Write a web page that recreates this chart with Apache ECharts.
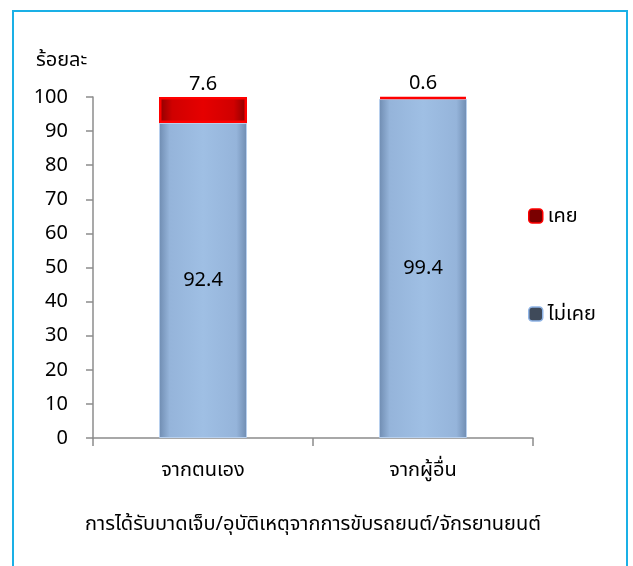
<!DOCTYPE html>
<html>
<head>
<meta charset="utf-8">
<script src="https://cdn.jsdelivr.net/npm/echarts@6/dist/echarts.min.js"></script>
<style>
  html, body { margin: 0; padding: 0; background: #fff; }
  #chart { width: 633px; height: 566px; }
</style>
</head>
<body>
<div id="chart"></div>
<script>
// data
const categories = ["จากตนเอง", "จากผู้อื่น"];
const neverValues = [92.4, 99.4];   // ไม่เคย
const everValues = [7.6, 0.6];      // เคย
const yTicks = { min: 0, max: 100, interval: 10 };

const FONT = "Tahoma, 'Noto Sans', 'Noto Sans Thai', 'DejaVu Sans', sans-serif";
const FS = 20;

let myChart = echarts.init(document.getElementById("chart"));

const blueFill = new echarts.graphic.LinearGradient(0, 0, 1, 0, [
  { offset: 0, color: "#6f8cb1" },
  { offset: 0.12, color: "#95b4da" },
  { offset: 0.5, color: "#9fbfe4" },
  { offset: 0.88, color: "#95b4da" },
  { offset: 1, color: "#6f8cb1" }
]);
const redFill = new echarts.graphic.LinearGradient(0, 0, 1, 0, [
  { offset: 0, color: "#8a0000" },
  { offset: 0.15, color: "#d00000" },
  { offset: 0.5, color: "#e60000" },
  { offset: 0.85, color: "#d00000" },
  { offset: 1, color: "#8a0000" }
]);

const option = {
  animation: false,
  textStyle: { fontFamily: FONT },
  graphic: [
    {
      type: "rect",
      z: -10,
      shape: { x: 13, y: 11, width: 614, height: 600 },
      style: { fill: "none", stroke: "#1ab0e6", lineWidth: 2 }
    },
    {
      type: "text",
      left: 36,
      top: 50,
      style: { text: "ร้อยละ", fontSize: FS, fill: "#000", fontFamily: FONT }
    }
  ],
  legend: {
    orient: "vertical",
    left: 523,
    top: 201,
    itemGap: 78,
    itemWidth: 14,
    itemHeight: 14,
    textStyle: { fontSize: FS, color: "#000" },
    data: [
      { name: "เคย", itemStyle: { color: "#7a0000", borderColor: "#ff0000", borderWidth: 1.5 } },
      { name: "ไม่เคย", itemStyle: { color: "#3f4a5a", borderColor: "#8fb4e6", borderWidth: 1.5 } }
    ]
  },
  grid: { left: 93, right: 100, top: 97, bottom: 128 },
  xAxis: {
    type: "category",
    data: categories,
    name: "การได้รับบาดเจ็บ/อุบัติเหตุจากการขับรถยนต์/จักรยานยนต์",
    nameLocation: "middle",
    nameGap: 76,
    nameTextStyle: { fontSize: FS, color: "#000" },
    axisLine: { lineStyle: { color: "#8c8c8c", width: 1.5 } },
    axisTick: { show: true, length: 8, lineStyle: { color: "#8c8c8c", width: 1.5 } },
    axisLabel: { fontSize: FS, color: "#000", margin: 22 }
  },
  yAxis: {
    type: "value",
    min: yTicks.min,
    max: yTicks.max,
    interval: yTicks.interval,
    axisLine: { show: true, lineStyle: { color: "#8c8c8c", width: 1.5 } },
    axisTick: { show: true, length: 7, lineStyle: { color: "#8c8c8c", width: 1.5 } },
    axisLabel: { fontSize: FS, color: "#000", margin: 25 },
    splitLine: { show: false }
  },
  series: [
    {
      name: "ไม่เคย",
      type: "bar",
      stack: "total",
      barWidth: "40%",
      data: neverValues,
      itemStyle: { color: blueFill, borderColor: "#b8d0ee", borderWidth: 1 },
      label: { show: true, position: "inside", fontSize: FS, color: "#000" }
    },
    {
      name: "เคย",
      type: "bar",
      stack: "total",
      barWidth: "40%",
      data: everValues,
      itemStyle: { color: redFill, borderColor: "#ff0000", borderWidth: 2.5 },
      label: { show: true, position: "top", distance: 3, fontSize: FS, color: "#000" }
    }
  ]
};

myChart.setOption(option);
</script>
</body>
</html>
